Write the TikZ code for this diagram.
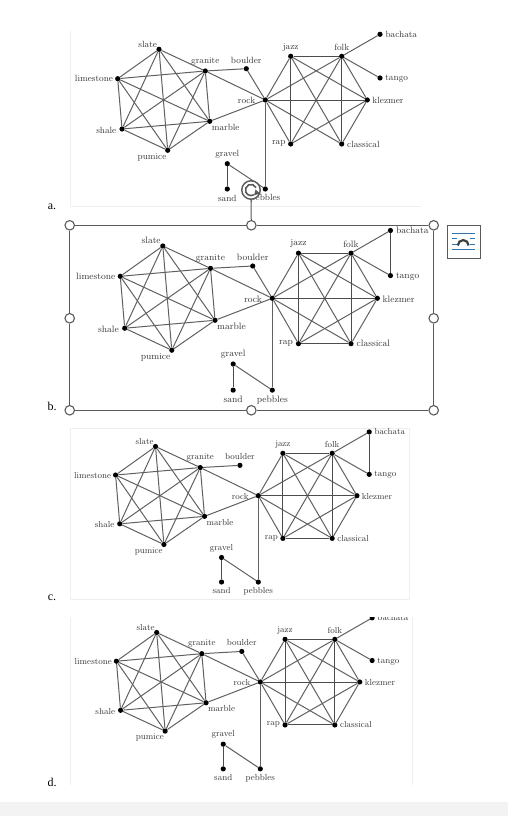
\documentclass[tikz,border=0pt]{standalone}
\usepackage{amsmath}
\usepackage{fontspec}
\newfontfamily\panelfont{Liberation Serif}
\definecolor{framegray}{HTML}{EFEFEF}
\definecolor{stripgray}{HTML}{F3F3F3}
\definecolor{selgray}{HTML}{5A5A5A}
\definecolor{iconblue}{HTML}{2E75B6}
\begin{document}
\begin{tikzpicture}[x=1pt,y=1pt]
	\tikzset{vertex/.style = {shape=circle,fill = black, inner sep=0pt, minimum size=5.2pt}}
	\tikzset{vlabel/.style = {inner sep=0pt, text=black!78, font=\fontsize{9}{10}\selectfont, transform shape}}
	\tikzset{edge/.style = {draw=black!62, line width=1pt}}
	\tikzset{hvedge/.style = {draw=black!70, line width=.9pt}}
	\tikzset{panelframe/.style = {draw=framegray, line width=.7pt}}
	\tikzset{selline/.style = {draw=selgray, line width=1pt}}
	\tikzset{handle/.style = {shape=circle, draw=selgray, fill=white, line width=1.1pt, inner sep=0pt, minimum size=9.5pt}}
	\tikzset{panelname/.style = {inner sep=0pt, font=\panelfont\fontsize{12}{12}\selectfont}}
	\useasboundingbox (0,0) rectangle (508,816);
	\fill[white] (0,0) rectangle (508,816);
	\fill[stripgray] (0,0) rectangle (508,14);
	\draw[panelframe] (70.6,785) -- (70.6,609.4) -- (420.7,609.4);
	\draw[panelframe] (70.6,388) rectangle (409,217);
	\draw[panelframe] (70.6,31) -- (70.6,199);
	\draw[panelframe] (412.4,31) -- (412.4,199);
	\foreach \p/\sx/\sy/\ox/\oy in {a/1/1/265.3/716, b/1.03/1.032/272.3/517.7, c/.967/.97/258.3/320.3, d/.975/.976/260.3/134}{
		\begin{scope}[shift={(\ox,\oy)},xscale=\sx,yscale=\sy]
			\foreach \n/\x/\y/\dx/\dy in {slate/-106.3/50.7/-11.3/5.3, granite/-60/29/0/10, boulder/-19/31.3/0/8.7,
				limestone/-147.6/21.3/-23.7/0, shale/-143.3/-29/-15.7/-1, marble/-55.6/-21.3/16/-6.3, pumice/-97.6/-50.3/-15.7/-7,
				rock/0/0/-18.7/-.7, jazz/25.4/43.7/0/9.2, folk/76.4/43.7/0/8.7, bachata/114.7/65.7/21.3/0, tango/114.7/22/16.7/-.7,
				klezmer/102/0/20.7/-.7, rap/25.4/-44/-12/.5, classical/76.4/-44/21.7/0,
				gravel/-38/-63.7/0/9.7, sand/-38/-89/0/-9, pebbles/0/-89/0/-9.3}{
				\node[vertex] (\p\n) at (\x,\y) {};
				\node[vlabel, xshift=\dx pt, yshift=\dy pt] (\p\n-text) at (\x,\y) {\n};
			}
		\end{scope}
		\foreach \u/\v in {slate/granite, granite/marble, marble/pumice, pumice/shale, shale/limestone, limestone/slate,
			slate/pumice, granite/shale, limestone/marble, slate/marble, slate/shale, granite/limestone, granite/pumice, marble/shale, limestone/pumice,
			granite/boulder, granite/rock, marble/rock, folk/klezmer, klezmer/classical, rap/rock, rock/jazz,
			rock/folk, rock/classical, jazz/classical, folk/rap, jazz/klezmer, rap/klezmer,
			folk/bachata, folk/tango, rock/pebbles, gravel/pebbles}{
			\draw[edge] (\p\u) to (\p\v);
		}
		\foreach \u/\v in {jazz/folk, jazz/rap, folk/classical, rock/klezmer, gravel/sand}{
			\draw[hvedge] (\p\u) to (\p\v);
		}
	}
	\draw[edge] (aboulder) to (arock);
	\draw[edge] (bboulder) to (brock);
	\draw[edge] (dboulder) to (drock);
	\draw[hvedge] (brap) to (bclassical);
	\draw[hvedge] (crap) to (cclassical);
	\draw[hvedge] (drap) to (dclassical);
	\draw[hvedge] (bbachata) to (btango);
	\draw[hvedge] (cbachata) to (ctango);
	\fill[white] (345,199.3) rectangle (412,212);
	\node[handle] (selnw) at (69.7,590.7) {};
	\node[handle] (seln) at (251.3,590.7) {};
	\node[handle] (selne) at (433.7,590.7) {};
	\node[handle] (sele) at (433.7,497.7) {};
	\node[handle] (selse) at (433.7,405.7) {};
	\node[handle] (sels) at (251.3,405.7) {};
	\node[handle] (selsw) at (69.7,405.7) {};
	\node[handle] (selw) at (69.7,497.7) {};
	\draw[selline] (selnw) -- (seln);
	\draw[selline] (seln) -- (selne);
	\draw[selline] (selne) -- (sele);
	\draw[selline] (sele) -- (selse);
	\draw[selline] (selse) -- (sels);
	\draw[selline] (sels) -- (selsw);
	\draw[selline] (selsw) -- (selw);
	\draw[selline] (selw) -- (selnw);
	\node[shape=circle, draw=selgray, fill=white, line width=1.4pt, inner sep=0pt, minimum size=18.5pt] (rotator) at (251,626) {};
	\draw[selline] (rotator) -- (seln);
	\draw[selgray, line width=1.6pt] (rotator.center) ++(25:5.6) arc (25:300:5.6);
	\fill[selgray] (255.5,626.5) -- (260,622.5) -- (254,620.5) -- cycle;
	\node[draw=selgray, fill=white, line width=1pt, minimum size=33pt, inner sep=0pt] (layouticon) at (463.5,574) {};
	\draw[iconblue, line width=.8pt] (452,582.7) -- (474.5,582.7);
	\draw[iconblue, line width=.8pt] (452,566.7) -- (474.5,566.7);
	\foreach \y in {577.5,572}{
		\draw[iconblue, line width=.8pt] (452,\y) -- (456.5,\y);
		\draw[iconblue, line width=.8pt] (470,\y) -- (474.5,\y);
	}
	\draw[black!75, line width=2.2pt] (457.8,570.5) arc (180:0:5.4);
	\node[panelname] (labela) at (52,609) {a.};
	\node[panelname] (labelb) at (52,410) {b.};
	\node[panelname] (labelc) at (52,218) {c.};
	\node[panelname] (labeld) at (52,34) {d.};
\end{tikzpicture}
\end{document}
